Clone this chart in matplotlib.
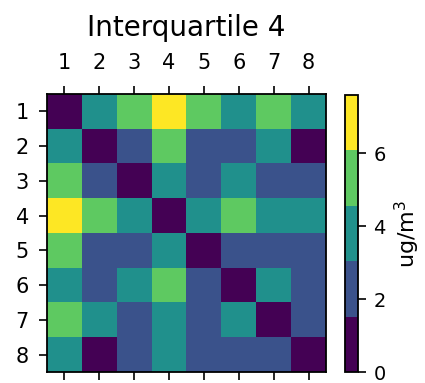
import numpy as np
import matplotlib
matplotlib.use("Agg")
import matplotlib.pyplot as plt

labels = ["1", "2", "3", "4", "5", "6", "7", "8"]
title = "Interquartile 4"
cbar_label = "ug/m$^3$"

# symmetric matrix of values (ug/m3)
row1 = [0.0, 3.8, 5.3, 7.6, 5.3, 3.8, 5.3, 3.8]
row2 = [3.8, 0.0, 2.3, 5.3, 2.3, 2.3, 3.8, 0.9]
row3 = [5.3, 2.3, 0.0, 3.8, 2.3, 3.8, 2.3, 2.3]
row4 = [7.6, 5.3, 3.8, 0.0, 3.8, 5.3, 3.8, 3.8]
row5 = [5.3, 2.3, 2.3, 3.8, 0.0, 2.3, 2.3, 2.3]
row6 = [3.8, 2.3, 3.8, 5.3, 2.3, 0.0, 3.8, 2.3]
row7 = [5.3, 3.8, 2.3, 3.8, 2.3, 3.8, 0.0, 2.3]
row8 = [3.8, 0.9, 2.3, 3.8, 2.3, 2.3, 2.3, 0.0]
data = np.array([row1, row2, row3, row4, row5, row6, row7, row8])

fig = plt.figure(figsize=(4.25, 3.83), dpi=100)
ax = fig.add_axes([47/425, 1-372/383, 279/425, 278/383])
cax = fig.add_axes([345/425, 1-372/383, 13/425, 277/383])

cmap = plt.get_cmap("viridis", 5)
im = ax.imshow(data, cmap=cmap, vmin=0, vmax=7.6, aspect="auto")
ax.set_xticks(range(8))
ax.set_yticks(range(8))
ax.set_xticklabels(labels, fontsize=15)
ax.set_yticklabels(labels, fontsize=15)
ax.tick_params(top=True, labeltop=True, bottom=True, labelbottom=False,
               length=6, width=1.2, pad=7)
ax.tick_params(axis="x", pad=9)
for s in ax.spines.values():
    s.set_linewidth(1.3)
ax.set_title(title, fontsize=20, pad=12)

cb = fig.colorbar(im, cax=cax)
cb.set_ticks([0, 2, 4, 6])
cb.ax.tick_params(labelsize=14, length=6, width=1.2, pad=5)
cb.outline.set_linewidth(1.3)
cb.set_label(cbar_label, fontsize=16, labelpad=5)

fig.savefig("out.png", dpi=100)
